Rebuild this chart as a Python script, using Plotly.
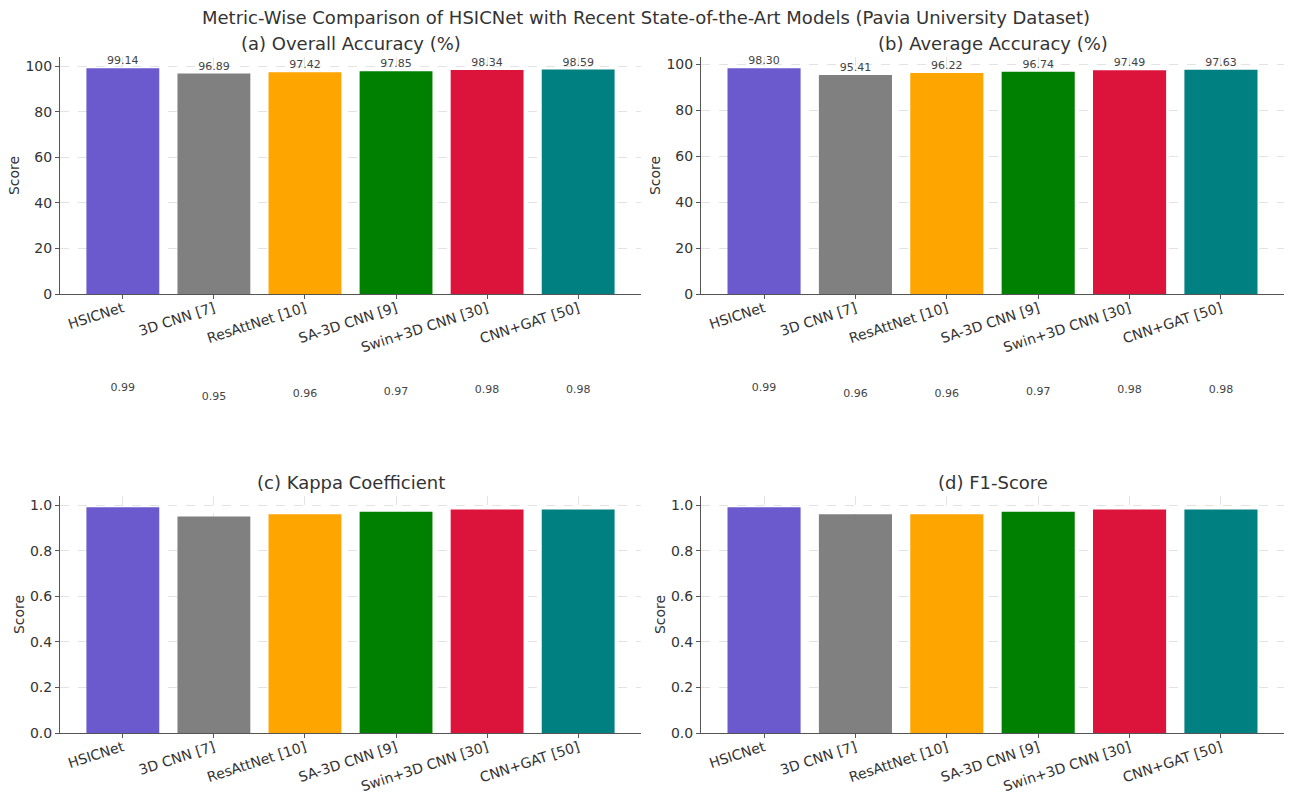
import plotly.graph_objects as go

models = ["HSICNet", "3D CNN [7]", "ResAttNet [10]", "SA-3D CNN [9]", "Swin+3D CNN [30]", "CNN+GAT [50]"]
colors = ["#6A5ACD", "#808080", "#FFA500", "#008000", "#DC143C", "#008080"]

overall_accuracy = [99.14, 96.89, 97.42, 97.85, 98.34, 98.59]
average_accuracy = [98.30, 95.41, 96.22, 96.74, 97.49, 97.63]
kappa = [0.99, 0.95, 0.96, 0.97, 0.98, 0.98]
f1_score = [0.99, 0.96, 0.96, 0.97, 0.98, 0.98]

titles = ["(a) Overall Accuracy (%)", "(b) Average Accuracy (%)", "(c) Kappa Coefficient", "(d) F1-Score"]
metrics = [overall_accuracy, average_accuracy, kappa, f1_score]
label_offset = 0.5

W, H = 1292, 794
# axes boxes in pixels: (x0, x1, y_top, y_bottom)
boxes = [(60, 641, 57, 294), (701, 1284, 57, 294), (60, 641, 496, 733), (701, 1284, 496, 733)]
XRANGE = [-0.69, 5.69]

FONT = "DejaVu Sans"
fig = go.Figure()
layout = {"annotations": []}
for i, (vals, title, box) in enumerate(zip(metrics, titles, boxes)):
    n = "" if i == 0 else str(i + 1)
    m = str(i + 5)
    xa, ya = "x" + n, "y" + n
    xh, yh = "x" + m, "y" + m
    x0, x1, yt, yb = box
    top = max(vals) * 1.05
    scale = (yb - yt) / top  # px per data unit
    lab_top = (max(vals) + label_offset) * 1.03
    is_pct = max(vals) > 2

    fig.add_trace(go.Bar(x=models, y=vals, marker=dict(color=colors, line=dict(width=0)),
                         xaxis=xa, yaxis=ya, showlegend=False, hoverinfo="x+y"))
    fig.add_trace(go.Scatter(x=models, y=[v + label_offset for v in vals],
                             text=[f"{v:.2f}" for v in vals], mode="text",
                             textposition="top center", cliponaxis=False,
                             textfont=dict(size=11, color="#444", family=FONT),
                             xaxis=xh, yaxis=yh, showlegend=False, hoverinfo="skip"))

    common_tick = dict(size=14, color="#333", family=FONT)
    layout["xaxis" + n] = dict(
        domain=[x0 / W, x1 / W], anchor=ya, range=XRANGE, automargin=False,
        showline=True, linecolor="#555", linewidth=1, mirror=False,
        ticks="outside", ticklen=4, tickcolor="#555", tickangle=-18,
        ticklabelstandoff=-4,
        tickfont=common_tick,
        showgrid=True, gridcolor="#e3e3e3", griddash="dash", gridwidth=1, zeroline=False,
    )
    layout["yaxis" + n] = dict(
        domain=[1 - yb / H, 1 - yt / H], anchor=xa, range=[0, top], automargin=False,
        showline=True, linecolor="#555", linewidth=1, mirror=False,
        ticks="outside", ticklen=4, tickcolor="#555",
        tickmode="linear", tick0=0, dtick=20 if is_pct else 0.2,
        tickformat="d" if is_pct else ".1f",
        tickfont=common_tick,
        showgrid=True, gridcolor="#e3e3e3", griddash="dash", gridwidth=1, zeroline=False,
        title=dict(text="Score", font=dict(size=14, color="#333", family=FONT), standoff=2),
    )
    # hidden axes with the same scale, extended upward, to hold the value labels
    layout["xaxis" + m] = dict(domain=[x0 / W, x1 / W], anchor=yh, range=XRANGE,
                               visible=False, showgrid=False, automargin=False)
    layout["yaxis" + m] = dict(domain=[1 - yb / H, 1 - (yb - lab_top * scale) / H], anchor=xh,
                               range=[0, lab_top], visible=False, showgrid=False, automargin=False)

    layout["annotations"].append(dict(
        text=title, xref="paper", yref="paper", x=((x0 + x1) / 2) / W, y=1 - (yt - 1) / H,
        xanchor="center", yanchor="bottom", showarrow=False,
        font=dict(size=18, color="#333", family=FONT)))

layout["annotations"].append(dict(
    text="Metric-Wise Comparison of HSICNet with Recent State-of-the-Art Models (Pavia University Dataset)",
    xref="paper", yref="paper", x=0.5, y=1 - 5 / H, xanchor="center", yanchor="top", showarrow=False,
    font=dict(size=18, color="#333", family=FONT)))

fig.update_layout(**layout)
fig.update_layout(width=W, height=H, margin=dict(l=0, r=0, t=0, b=0, autoexpand=False),
                  plot_bgcolor="rgba(0,0,0,0)", paper_bgcolor="white", bargap=0.2,
                  font=dict(family=FONT))
fig.write_html("out.html", config={"displayModeBar": False},
               post_script="document.body.style.margin='0';document.body.style.overflow='hidden';")
